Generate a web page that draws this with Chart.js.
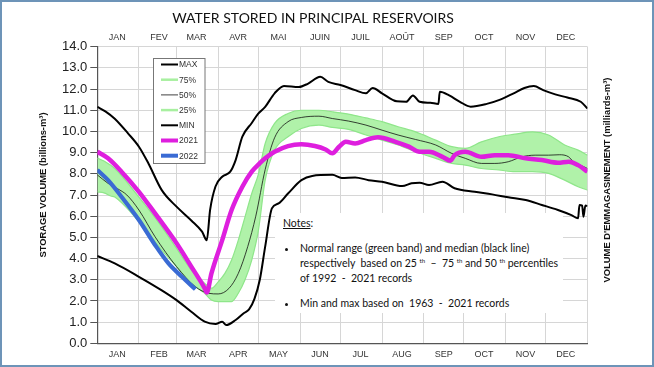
<!DOCTYPE html>
<html>
<head>
<meta charset="utf-8">
<script src="https://cdn.jsdelivr.net/npm/chart.js@4"></script>
<style>
  html, body { margin: 0; padding: 0; background: #fff; }
  #wrap { position: relative; width: 654px; height: 367px; }
  #notes {
    position: absolute; left: 275px; top: 213px; width: 288px; height: 100px;
    background: #fff; font-family: Lato, sans-serif; font-size: 10.5px; color: #111;
  }
  #notes div { position: absolute; white-space: pre; line-height: 12px; }
  #notes sup { font-size: 6px; vertical-align: 4px; line-height: 0; }
  #notes .dot { width: 3px; height: 3px; border-radius: 50%; background: #111; }
</style>
</head>
<body>
<div id="wrap">
  <canvas id="reservoirChart" width="654" height="367"></canvas>
  <div id="notes">
    <div style="left:8px; top:4px;"><u>Notes</u>:</div>
    <div class="dot" style="left:10px; top:35px;"></div>
    <div style="left:25px; top:29px;">Normal range (green band) and median (black line)</div>
    <div style="left:25px; top:44px;">respectively  based on 25 <sup>th</sup>  –  75 <sup>th</sup> and 50 <sup>th</sup> percentiles</div>
    <div style="left:25px; top:59px;">of 1992  -  2021 records</div>
    <div class="dot" style="left:10px; top:90px;"></div>
    <div style="left:25px; top:84px;">Min and max based on  1963  -  2021 records</div>
  </div>
</div>
<script>
// Month boundaries (day of year) and labels
const monthStarts = [0, 31, 59, 90, 120, 151, 181, 212, 243, 273, 304, 334, 365];
const monthsEn = ['JAN', 'FEB', 'MAR', 'APR', 'MAY', 'JUN', 'JUL', 'AUG', 'SEP', 'OCT', 'NOV', 'DEC'];
const monthsFr = ['JAN', 'FEV', 'MAR', 'AVR', 'MAI', 'JUIN', 'JUIL', 'AOÛT', 'SEP', 'OCT', 'NOV', 'DEC'];

// MAX (1963 - 2021)
const maxDays = [0, 6, 13, 23, 31, 38, 48, 59, 70, 78, 81.5, 84, 88, 93, 99, 103, 108, 115, 120, 125, 132, 139, 150, 157, 166, 172, 181, 192, 200, 205, 212, 223, 230, 235, 240, 248, 254, 255, 262, 270, 278, 290, 300, 310, 318, 325, 332, 341, 350, 360, 365];
const maxVals = [11.16, 10.95, 10.6, 9.9, 9.28, 8.5, 7.23, 6.45, 5.8, 5.27, 4.87, 6.3, 7.4, 7.86, 8.1, 8.65, 9.75, 10.4, 10.85, 11.16, 11.8, 12.15, 12.1, 12.26, 12.58, 12.34, 12.19, 11.95, 11.8, 12.05, 11.8, 11.42, 11.4, 11.7, 11.4, 11.35, 11.3, 11.87, 11.7, 11.4, 11.17, 11.3, 11.5, 11.8, 12.05, 12.14, 11.95, 11.75, 11.6, 11.4, 11.08];

// MIN (1963 - 2021)
const minDays = [0, 13, 31, 48, 59, 70, 80, 88, 93, 96, 103, 109, 113, 117, 121, 125, 130, 135, 142, 152, 160, 175, 182, 192, 202, 212, 227, 234, 240, 247, 257, 266, 281, 294, 306, 319, 331, 343, 353, 358, 359, 361, 362, 363.4, 365];
const minVals = [4.12, 3.77, 3.14, 2.5, 2.04, 1.49, 1.02, 0.91, 1.02, 0.86, 1.1, 1.42, 1.6, 2.1, 3.0, 4.56, 6.37, 6.6, 7.07, 7.7, 7.9, 7.95, 7.8, 7.83, 7.7, 7.63, 7.42, 7.55, 7.58, 7.47, 7.63, 7.32, 7.15, 7.03, 6.89, 6.76, 6.53, 6.29, 6.05, 5.9, 6.53, 6.5, 5.97, 6.5, 6.48];

// Percentiles (1992 - 2021)
const p75Days = [0, 5, 13, 31, 48, 59, 70, 80, 85, 90, 95, 100, 105, 110, 115, 120, 125, 132, 142, 152, 165, 175, 187, 200, 212, 224, 237, 252, 264, 274, 286, 299, 311, 324, 336, 348, 358, 365];
const p75Vals = [8.75, 8.6, 8.25, 6.9, 5.5, 4.48, 3.46, 2.83, 2.6, 2.9, 3.3, 3.93, 4.87, 5.97, 7.07, 8.0, 9.43, 10.38, 10.85, 11.0, 11.0, 10.93, 10.82, 10.64, 10.46, 10.22, 9.98, 9.59, 9.28, 9.2, 9.51, 9.75, 9.87, 9.98, 9.83, 9.36, 9.12, 8.88];
const p25Days = [0, 5, 10, 13, 31, 48, 59, 70, 80, 85, 90, 100, 105, 110, 115, 120, 125, 132, 142, 152, 165, 175, 187, 200, 212, 224, 237, 252, 264, 274, 286, 299, 311, 324, 336, 348, 358, 365];
const p25Vals = [7.15, 7.1, 6.95, 6.9, 5.74, 4.4, 3.62, 2.83, 2.36, 2.04, 1.97, 1.97, 2.36, 3.0, 3.93, 5.34, 7.7, 9.12, 9.75, 10.14, 10.3, 10.19, 10.1, 9.83, 9.59, 9.36, 9.04, 8.73, 8.49, 8.41, 8.25, 8.18, 8.1, 8.1, 8.02, 7.7, 7.39, 7.23];
const p50Days = [0, 8, 15, 22, 31, 43, 59, 73, 83, 90, 98, 105, 112, 118, 125, 132, 142, 152, 165, 175, 187, 200, 212, 224, 237, 252, 264, 274, 286, 296, 306, 316, 326, 336, 344, 351, 354, 360, 365];
const p50Vals = [7.95, 7.55, 7.3, 7.0, 6.29, 5.03, 3.62, 2.67, 2.36, 2.33, 2.59, 3.3, 4.56, 6.0, 8.2, 9.7, 10.46, 10.66, 10.72, 10.61, 10.49, 10.3, 10.06, 9.83, 9.62, 9.36, 8.96, 8.73, 8.49, 8.49, 8.57, 8.8, 8.88, 8.88, 8.9, 8.8, 8.6, 8.4, 8.25];

// 2021 and 2022
const y2021Days = [0, 8, 18, 31, 43, 59, 70, 80, 81.5, 85, 93, 100, 108, 115, 121, 125, 132, 142, 152, 162, 170, 175, 180, 185, 192, 200, 209, 222, 232, 240, 247, 257, 263, 266, 274, 286, 296, 306, 319, 331, 343, 351, 358, 365];
const y2021Vals = [9.04, 8.73, 8.1, 7.15, 6.13, 4.72, 3.62, 2.59, 2.4, 3.3, 4.87, 6.29, 7.39, 8.1, 8.5, 8.73, 9.04, 9.31, 9.39, 9.31, 9.15, 8.97, 9.28, 9.51, 9.43, 9.59, 9.72, 9.51, 9.28, 9.04, 9.04, 8.8, 8.62, 8.88, 9.04, 8.8, 8.88, 8.88, 8.73, 8.65, 8.52, 8.57, 8.41, 8.1];
const y2022Days = [0, 8, 18, 31, 43, 53, 63, 73];
const y2022Vals = [8.18, 7.7, 6.92, 5.82, 4.64, 3.77, 3.14, 2.55];

const legendOrder = ['MAX', '75%', '50%', '25%', 'MIN', '2021', '2022'];

const pts = (days, vals) => days.map((d, i) => ({ x: d, y: vals[i] }));

function line(label, days, vals, color, width, extra) {
    return Object.assign({
        label: label,
        data: pts(days, vals),
        borderColor: color,
        borderWidth: width,
        pointRadius: 0,
        cubicInterpolationMode: 'monotone',
        fill: false
    }, extra || {});
}

// first dataset is drawn on top
const datasets = [
    line('2022', y2022Days, y2022Vals, '#3a6bd4', 4.2),
    line('2021', y2021Days, y2021Vals, '#de1fde', 4.5),
    line('MAX', maxDays, maxVals, '#000', 2),
    line('MIN', minDays, minVals, '#000', 2),
    line('50%', p50Days, p50Vals, '#111', 0.8),
    line('75%', p75Days, p75Vals, '#8fe68a', 1.2),
    line('25%', p25Days, p25Vals, '#8fe68a', 1.2, { fill: '-1', backgroundColor: '#b0f2a9' })
];

// Legend box inside the plot
const boxLegend = {
    id: 'boxLegend',
    afterDatasetsDraw(chart) {
        const ctx = chart.ctx;
        ctx.save();
        ctx.fillStyle = '#fff';
        ctx.fillRect(153.5, 58.5, 51.5, 105);
        ctx.strokeStyle = '#777';
        ctx.lineWidth = 1;
        ctx.strokeRect(153.5, 58.5, 51.5, 105);
        ctx.font = '8.5px "Liberation Sans", Arial, sans-serif';
        ctx.textBaseline = 'middle';
        legendOrder.forEach((lab, i) => {
            const ds = chart.data.datasets.find(d => d.label === lab);
            const y = 64.5 + i * 15.2;
            ctx.strokeStyle = lab === '75%' || lab === '25%' ? '#a8f0a0' : ds.borderColor;
            ctx.lineWidth = lab === '75%' || lab === '25%' ? 2.5 : Math.min(ds.borderWidth, 4);
            ctx.beginPath();
            ctx.moveTo(161, y);
            ctx.lineTo(178, y);
            ctx.stroke();
            ctx.fillStyle = '#333';
            ctx.fillText(lab, 179, y + 0.5);
        });
        ctx.restore();
    }
};

// Title, axis titles and outer frame
const textLayer = {
    id: 'textLayer',
    afterDraw(chart) {
        const ctx = chart.ctx;
        ctx.save();
        ctx.fillStyle = '#111';
        ctx.textAlign = 'center';
        ctx.textBaseline = 'middle';
        ctx.font = '14px Lato, sans-serif';
        ctx.fillText('WATER STORED IN PRINCIPAL RESERVOIRS', 313, 18);

        ctx.font = 'bold 9.4px "Liberation Sans", Arial, sans-serif';
        ctx.save();
        ctx.translate(43, 185);
        ctx.rotate(-Math.PI / 2);
        ctx.fillText('STORAGE VOLUME (billions-m³)', 0, 0);
        ctx.restore();
        ctx.save();
        ctx.translate(607, 180);
        ctx.rotate(-Math.PI / 2);
        ctx.fillText("VOLUME D'EMMAGASINEMENT (milliards-m³)", 0, 0);
        ctx.restore();

        ctx.strokeStyle = '#6d94b8';
        ctx.lineWidth = 2;
        ctx.strokeRect(1, 1, 652, 365);
        ctx.restore();
    }
};

const monthTicks = scale => { scale.ticks = monthStarts.map(v => ({ value: v })); };

new Chart(document.getElementById('reservoirChart'), {
    type: 'line',
    data: { datasets: datasets },
    options: {
        responsive: false,
        animation: false,
        devicePixelRatio: 1,
        layout: { padding: { top: 30, right: 66.5, left: 0, bottom: 0 } },
        plugins: { legend: { display: false }, tooltip: { enabled: false } },
        scales: {
            x: {
                type: 'linear', min: 0, max: 365, position: 'bottom',
                afterBuildTicks: monthTicks,
                afterFit: s => { s.height = 23.7; },
                ticks: {
                    autoSkip: false, maxRotation: 0, labelOffset: 20, padding: 6,
                    color: '#333', font: { family: '"Liberation Sans", Arial', size: 9 },
                    callback: (v, i) => monthsEn[i] || ''
                },
                grid: { color: '#d6d6d6', drawTicks: false },
                border: { color: '#555', width: 1.2 }
            },
            xTop: {
                type: 'linear', min: 0, max: 365, position: 'top',
                afterBuildTicks: monthTicks,
                afterFit: s => { s.height = 16.7; },
                ticks: {
                    autoSkip: false, maxRotation: 0, labelOffset: 20, padding: 4,
                    color: '#333', font: { family: '"Liberation Sans", Arial', size: 9 },
                    callback: (v, i) => monthsFr[i] || ''
                },
                grid: { display: false, drawTicks: false },
                border: { display: false }
            },
            y: {
                min: 0, max: 14,
                afterFit: s => { s.width = 97.3; },
                ticks: {
                    stepSize: 1, maxTicksLimit: 20, padding: 3,
                    color: '#222', font: { family: '"Liberation Sans", Arial', size: 13 },
                    callback: v => v.toFixed(1)
                },
                grid: { color: '#d6d6d6', tickLength: 7, tickColor: '#555' },
                border: { color: '#555', width: 1.2 }
            }
        }
    },
    plugins: [boxLegend, textLayer]
});
</script>
</body>
</html>
